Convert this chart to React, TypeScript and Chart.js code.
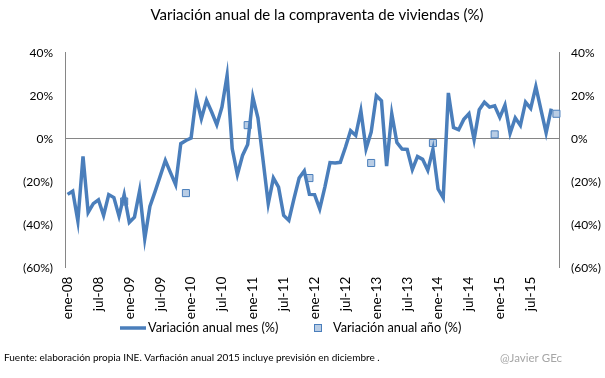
import React, { useEffect, useRef } from 'react';
import { Chart, registerables } from 'chart.js';

Chart.register(...registerables);

const MONTHS = ['ene', 'feb', 'mar', 'abr', 'may', 'jun', 'jul', 'ago', 'sep', 'oct', 'nov', 'dic'];
const YEARS = ['08', '09', '10', '11', '12', '13', '14', '15'];
const categories: string[] = YEARS.flatMap((y) => MONTHS.map((m) => `${m}-${y}`));

// Monthly year-on-year change (%), ene-08 .. nov-15
const monthlyValues: (number | null)[] = [
  -25.9, -24.4, -38.3, -8.2, -34.3, -30.2, -28.4, -35.7, -26.0, -27.4, -36.0, -26.0,
  -38.9, -36.5, -24.2, -46.5, -31.5, -24.6, -17.4, -10.1, -15.8, -21.4, -2.3, -0.8,
  0.3, 19.4, 9.3, 17.8, 12.4, 6.5, 14.7, 29.4, -4.7, -16.7, -7.8, -2.7,
  19.4, 9.6, -10.2, -30.2, -18.3, -22.5, -35.7, -38.0, -27.9, -18.3, -15.0, -25.9,
  -26.0, -32.6, -22.5, -11.1, -11.3, -11.0, -4.0, 3.7, 1.5, 13.0, -4.7, 3.1,
  20.0, 17.6, -12.7, 11.6, -1.8, -4.8, -5.0, -14.4, -8.3, -9.6, -14.7, -4.9,
  -23.4, -27.5, 21.3, 5.2, 4.2, 9.0, 11.6, -0.4, 13.5, 17.0, 14.7, 15.3,
  9.9, 15.6, 2.5, 9.7, 6.2, 17.0, 14.1, 24.2, 13.4, 2.7, 14.0, null,
];

// Annual change (%), plotted at december of each year
const annualLabels = ['dic-08', 'dic-09', 'dic-10', 'dic-11', 'dic-12', 'dic-13', 'dic-14', 'dic-15'];
const annualValues = [-29.2, -25.3, 6.3, -18.3, -11.3, -2.0, 2.0, 11.6];

const yTicks = [40, 20, 0, -20, -40, -60];

const TITLE = 'Variación anual de la compraventa de viviendas (%)';
const LEGEND_MONTH = 'Variación anual mes (%)';
const LEGEND_YEAR = 'Variación anual año (%)';
const FOOTER = 'Fuente: elaboración propia INE. Varfiación anual 2015 incluye previsión en diciembre .';
const CREDIT = '@Javier GEc';

const LINE_COLOR = '#4a7ebb';
const SQUARE_FILL = '#b9cde5';
const AXIS_COLOR = '#868686';
const FONT = 'Lato';

const fmt = (v: number) => (v < 0 ? `(${-v}%)` : `${v}%`);

const decor = {
  id: 'decor',
  afterDraw(chart: any) {
    const ctx = chart.ctx as CanvasRenderingContext2D;
    ctx.save();
    ctx.fillStyle = '#000';
    ctx.textBaseline = 'middle';
    ctx.textAlign = 'center';
    ctx.font = `15px ${FONT}`;
    ctx.fillText(TITLE, 317, 15);

    // legend
    ctx.font = `12.7px ${FONT}`;
    ctx.textAlign = 'left';
    ctx.strokeStyle = LINE_COLOR;
    ctx.lineWidth = 3.5;
    ctx.beginPath();
    ctx.moveTo(120, 328);
    ctx.lineTo(146, 328);
    ctx.stroke();
    ctx.fillStyle = '#000';
    ctx.fillText(LEGEND_MONTH, 148, 328);
    ctx.fillStyle = SQUARE_FILL;
    ctx.fillRect(314.5, 324.5, 7, 7);
    ctx.strokeStyle = LINE_COLOR;
    ctx.lineWidth = 1;
    ctx.strokeRect(314.5, 324.5, 7, 7);
    ctx.fillStyle = '#000';
    ctx.fillText(LEGEND_YEAR, 333, 328);

    // footer
    ctx.font = `10px ${FONT}`;
    ctx.fillText(FOOTER, 4, 358);
    ctx.fillStyle = '#a6a6a6';
    ctx.font = `11.5px ${FONT}`;
    ctx.textAlign = 'right';
    ctx.fillText(CREDIT, 562, 358);
    ctx.restore();
  },
};

export default function App() {
  const ref = useRef<HTMLCanvasElement | null>(null);

  useEffect(() => {
    if (!ref.current) return;
    const yScale = (position: 'left' | 'right') => ({
      type: 'linear' as const,
      position,
      min: -60,
      max: 40,
      afterBuildTicks: (scale: any) => {
        scale.ticks = yTicks.map((v) => ({ value: v }));
      },
      afterFit: (scale: any) => {
        scale.width = position === 'left' ? 65 : 46;
      },
      border: { display: true, color: AXIS_COLOR, width: 1 },
      grid: {
        drawTicks: false,
        color: (c: any) => (position === 'left' && c.tick && c.tick.value === 0 ? AXIS_COLOR : 'rgba(0,0,0,0)'),
        lineWidth: 1,
      },
      ticks: {
        padding: 12,
        color: '#000',
        font: { family: FONT, size: 12 },
        callback: (v: any) => fmt(Number(v)),
      },
    });

    const chart = new Chart(ref.current, {
      type: 'line',
      data: {
        labels: categories,
        datasets: [
          {
            label: LEGEND_MONTH,
            data: monthlyValues,
            borderColor: LINE_COLOR,
            backgroundColor: LINE_COLOR,
            borderWidth: 3.5,
            pointRadius: 0,
            tension: 0,
            yAxisID: 'y',
          },
          {
            label: LEGEND_YEAR,
            data: annualLabels.map((x, i) => ({ x, y: annualValues[i] })),
            showLine: false,
            pointStyle: 'rect',
            pointRadius: 5,
            pointBackgroundColor: SQUARE_FILL,
            pointBorderColor: LINE_COLOR,
            pointBorderWidth: 1,
            yAxisID: 'y',
          } as any,
        ],
      },
      options: {
        responsive: false,
        animation: false,
        devicePixelRatio: 1,
        layout: { padding: { top: 52.7, bottom: 0, left: 0, right: 0 } },
        plugins: {
          legend: { display: false },
          title: { display: false },
          tooltip: { enabled: false },
        },
        scales: {
          x: {
            type: 'category',
            offset: true,
            afterFit: (scale: any) => {
              scale.height = 378 - 267.7;
            },
            border: { display: false },
            grid: { display: false, drawTicks: false },
            ticks: {
              autoSkip: false,
              minRotation: 90,
              maxRotation: 90,
              padding: 9,
              color: '#000',
              font: { family: FONT, size: 13.5 },
              callback: (_v: any, i: number) => (i % 6 === 0 ? categories[i] : null),
            },
          },
          y: yScale('left'),
          y2: yScale('right'),
        },
      },
      plugins: [decor],
    });
    return () => chart.destroy();
  }, []);

  return (
    <div style={{ position: 'absolute', left: 0, top: 0, width: 605, height: 378, background: '#fff' }}>
      <canvas ref={ref} width={605} height={378} style={{ width: 605, height: 378 }} />
    </div>
  );
}
